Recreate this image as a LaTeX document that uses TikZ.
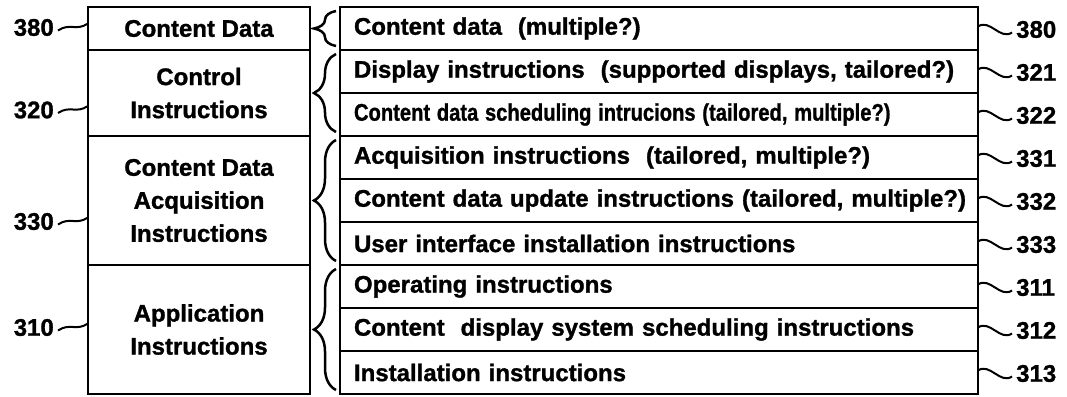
\documentclass[tikz,border=0pt]{standalone}
\usepackage{graphicx}
\usepackage{fontspec}
\setmainfont{Liberation Sans}[BoldFeatures={FakeBold=1.2}]
\usepackage{tikz}
\usetikzlibrary{positioning,decorations.pathreplacing}

\tikzset{
  grp/.style={draw, line width=2.5pt, minimum width=222pt, align=center, inner sep=0pt, outer sep=0pt, font=\bfseries\fontsize{24}{33}\selectfont},
  row/.style={draw, line width=2.5pt, minimum height=43pt, text width=610pt, align=left, inner xsep=14pt, inner ysep=0pt, outer sep=0pt, font=\bfseries\fontsize{24}{28}\selectfont},
  refnum/.style={inner sep=1pt, font=\bfseries\fontsize{24}{24}\selectfont},
  leader/.style={line width=2pt},
  grpbrace/.style={decorate, decoration={brace, amplitude=22pt}, line width=2.5pt}
}

\begin{document}
\begin{tikzpicture}[x=1pt,y=-1pt]

\useasboundingbox (0,0) rectangle (1067,396);

% define nodes

% groups

\node[grp, anchor=north west, minimum height=43pt] (g380) at (88,7) {Content Data};
\node[grp, below=0pt of g380, minimum height=86pt] (g320) {Control\\Instructions};
\node[grp, below=0pt of g320, minimum height=129pt] (g330) {Content Data\\Acquisition\\Instructions};
\node[grp, below=0pt of g330, minimum height=129pt] (g310) {Application\\Instructions};
% rows
\node[row, anchor=north west] (r380) at (340,7) {Content data\ \ (multiple?)};
\node[row, below=0pt of r380] (r321) {Display instructions\ \ (supported displays, tailored?)};
\node[row, below=0pt of r321] (r322) {\scalebox{0.84}[1]{Content data scheduling intrucions (tailored, multiple?)}};
\node[row, below=0pt of r322] (r331) {Acquisition instructions\ \ (tailored, multiple?)};
\node[row, below=0pt of r331] (r332) {\mbox{Content data update instructions (tailored, multiple?)}};
\node[row, below=0pt of r332] (r333) {User interface installation instructions};
\node[row, below=0pt of r333] (r311) {Operating instructions};
\node[row, below=0pt of r311] (r312) {Content\ \ display system scheduling instructions};
\node[row, below=0pt of r312] (r313) {Installation instructions};
% reference numbers
\node[refnum, left=33pt of g380, yshift=1pt] (n380) {380};
\node[refnum, left=33pt of g320, yshift=-17pt] (n320) {320};
\node[refnum, left=33pt of g330, yshift=-21pt] (n330) {330};
\node[refnum, left=33pt of g310, yshift=2pt] (n310) {310};
\node[refnum, right=37pt of r380, yshift=-1pt] (m380) {380};
\node[refnum, right=37pt of r321, yshift=-1pt] (m321) {321};
\node[refnum, right=37pt of r322, yshift=-1pt] (m322) {322};
\node[refnum, right=37pt of r331, yshift=-1pt] (m331) {331};
\node[refnum, right=37pt of r332, yshift=-1pt] (m332) {332};
\node[refnum, right=37pt of r333, yshift=-1pt] (m333) {333};
\node[refnum, right=37pt of r311, yshift=-1pt] (m311) {311};
\node[refnum, right=37pt of r312, yshift=-1pt] (m312) {312};
\node[refnum, right=37pt of r313, yshift=-1pt] (m313) {313};

% braces

\draw[grpbrace] ([xshift=26pt,yshift=4pt]g380.south east) -- ([xshift=26pt,yshift=-4pt]g380.north east);
\draw[grpbrace] ([xshift=26pt,yshift=4pt]g320.south east) -- ([xshift=26pt,yshift=-4pt]g320.north east);
\draw[grpbrace] ([xshift=26pt,yshift=4pt]g330.south east) -- ([xshift=26pt,yshift=-4pt]g330.north east);
\draw[grpbrace] ([xshift=26pt,yshift=4pt]g310.south east) -- ([xshift=26pt,yshift=-4pt]g310.north east);

% leaders

\coordinate (e380) at ([yshift=4pt]n380.east -| g380.west);
\coordinate (e320) at ([yshift=4pt]n320.east -| g320.west);
\coordinate (e330) at ([yshift=4pt]n330.east -| g330.west);
\coordinate (e310) at ([yshift=4pt]n310.east -| g310.west);
\draw[leader] ([xshift=3pt,yshift=-3pt]n380.east) .. controls +(12,-8) and +(-12,8) .. (e380);
\draw[leader] ([xshift=3pt,yshift=-3pt]n320.east) .. controls +(12,-8) and +(-12,8) .. (e320);
\draw[leader] ([xshift=3pt,yshift=-3pt]n330.east) .. controls +(12,-8) and +(-12,8) .. (e330);
\draw[leader] ([xshift=3pt,yshift=-3pt]n310.east) .. controls +(12,-8) and +(-12,8) .. (e310);
\draw[leader] ([yshift=2pt]r380.east) .. controls +(12,-8) and +(-12,8) .. ([xshift=-3pt,yshift=-3pt]m380.west);
\draw[leader] ([yshift=2pt]r321.east) .. controls +(12,-8) and +(-12,8) .. ([xshift=-3pt,yshift=-3pt]m321.west);
\draw[leader] ([yshift=2pt]r322.east) .. controls +(12,-8) and +(-12,8) .. ([xshift=-3pt,yshift=-3pt]m322.west);
\draw[leader] ([yshift=2pt]r331.east) .. controls +(12,-8) and +(-12,8) .. ([xshift=-3pt,yshift=-3pt]m331.west);
\draw[leader] ([yshift=2pt]r332.east) .. controls +(12,-8) and +(-12,8) .. ([xshift=-3pt,yshift=-3pt]m332.west);
\draw[leader] ([yshift=2pt]r333.east) .. controls +(12,-8) and +(-12,8) .. ([xshift=-3pt,yshift=-3pt]m333.west);
\draw[leader] ([yshift=2pt]r311.east) .. controls +(12,-8) and +(-12,8) .. ([xshift=-3pt,yshift=-3pt]m311.west);
\draw[leader] ([yshift=2pt]r312.east) .. controls +(12,-8) and +(-12,8) .. ([xshift=-3pt,yshift=-3pt]m312.west);
\draw[leader] ([yshift=2pt]r313.east) .. controls +(12,-8) and +(-12,8) .. ([xshift=-3pt,yshift=-3pt]m313.west);

\end{tikzpicture}
\end{document}
